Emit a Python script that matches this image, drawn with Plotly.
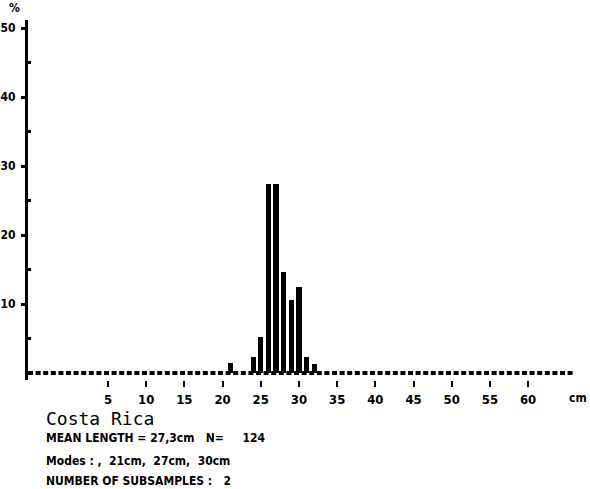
import plotly.graph_objects as go

# Data
lengths_cm = [21, 24, 25, 26, 27, 28, 29, 30, 31, 32]
percent = [1.4, 2.3, 5.2, 27.4, 27.4, 14.6, 10.6, 12.5, 2.3, 1.3]

x_tick_vals = [5, 10, 15, 20, 25, 30, 35, 40, 45, 50, 55, 60]
y_tick_vals = [10, 20, 30, 40, 50]
y_tick_text = ["10", "20", "30", "40", "50"]

title_text = "Costa Rica"
info_lines = [
    "MEAN LENGTH = 27,3cm   N=     124",
    "Modes : ,  21cm,  27cm,  30cm",
    "NUMBER OF SUBSAMPLES :   2",
]

W, H = 590, 489
ML, MR, MT, MB = 28, 0, 20, 109
PW, PH = W - ML - MR, H - MT - MB

def px(xp):
    return (xp - ML) / PW

def py(yp):
    return (H - MB - yp) / PH

FONT_C = "DejaVu Sans Condensed"

fig = go.Figure()
fig.add_trace(go.Bar(
    x=lengths_cm, y=percent, width=0.68,
    marker=dict(color="black", line=dict(width=0)),
    showlegend=False, hoverinfo="x+y",
))

fig.add_shape(type="line", xref="x", yref="y", x0=-5.47, x1=66.0, y0=0, y1=0,
              line=dict(color="black", width=4, dash="5px,2.6px"))

fig.update_layout(
    width=W, height=H,
    margin=dict(l=ML, r=MR, t=MT, b=MB, pad=0, autoexpand=False),
    paper_bgcolor="white", plot_bgcolor="white",
    bargap=0,
    xaxis=dict(
        range=[-5.47, 68.1], showgrid=False, zeroline=False, showline=False, automargin=False,
        tickvals=x_tick_vals, ticks="outside", ticklen=6, tickwidth=2, tickcolor="black",
        tickfont=dict(family=FONT_C, size=13, color="black", weight="bold"),
        ticklabelstandoff=1,
    ),
    yaxis=dict(
        range=[-1.01, 51.16], showgrid=False, zeroline=False, automargin=False,
        showline=True, linecolor="black", linewidth=3,
        tickvals=y_tick_vals, ticktext=y_tick_text,
        ticks="outside", ticklen=4, tickwidth=3, tickcolor="black",
        tickfont=dict(family=FONT_C, size=12, color="black", weight="bold"),
        ticklabelstandoff=3,
        minor=dict(tickvals=[5, 15, 25, 35, 45], ticks="inside", ticklen=3, tickwidth=3, tickcolor="black"),
    ),
)

anns = [
    dict(text="%", x=px(14), y=py(8), size=12, family=FONT_C, xanchor="center"),
    dict(text="cm", x=px(578), y=py(398), size=12, family=FONT_C, xanchor="center"),
]
for a in anns:
    fig.add_annotation(text=a["text"], xref="paper", yref="paper", x=a["x"], y=a["y"],
                       xanchor=a["xanchor"], yanchor="middle", showarrow=False,
                       font=dict(family=a["family"], size=a["size"], color="black", weight="bold"))

fig.add_annotation(text=title_text, xref="paper", yref="paper", x=px(44), y=py(418),
                   xanchor="left", yanchor="middle", showarrow=False,
                   font=dict(family="DejaVu Sans Mono", size=18, color="black"))

line_y = [438, 461, 481]
for t, yy in zip(info_lines, line_y):
    fig.add_annotation(text=t.replace(" ", "&nbsp;"), xref="paper", yref="paper", x=px(44), y=py(yy),
                       xanchor="left", yanchor="middle", showarrow=False,
                       font=dict(family=FONT_C, size=12, color="black", weight="bold"))

fig.write_html("out.html", config={"displayModeBar": False},
               post_script="document.body.style.margin='0px';document.body.style.padding='0px';")
